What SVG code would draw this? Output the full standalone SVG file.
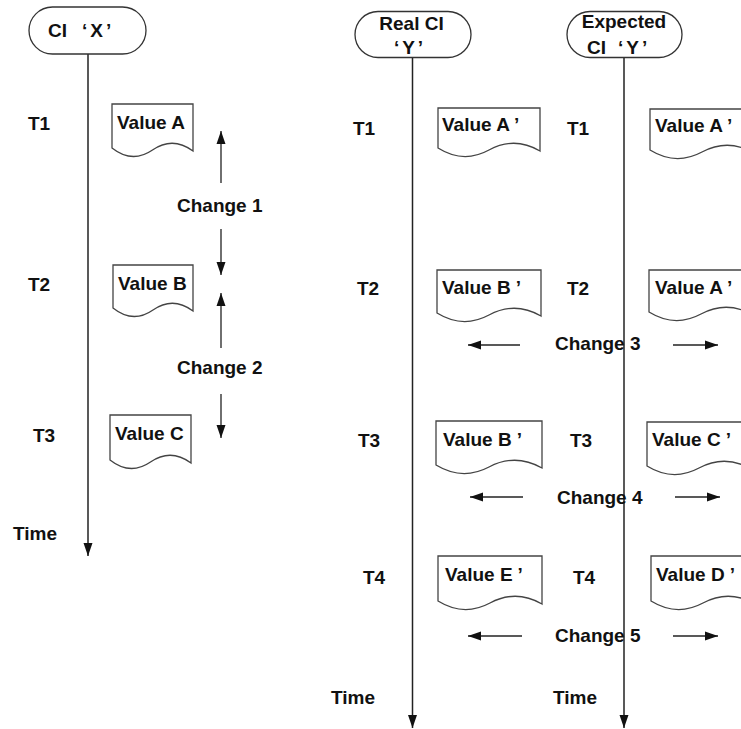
<svg xmlns="http://www.w3.org/2000/svg" width="741" height="729" viewBox="0 0 741 729">
<defs>
<style>
text{font-family:"Liberation Sans",Arial,sans-serif;font-weight:bold;font-size:19px;fill:#111}
.cap{fill:#fff;stroke:#333;stroke-width:1.3}
.doc{fill:#fff;stroke:#444;stroke-width:1.3}
.tl{stroke:#222;stroke-width:1.5;fill:none}
.ar{stroke:#222;stroke-width:1.3;fill:none}
.q{letter-spacing:3px}
</style>
<marker id="ah" markerWidth="14" markerHeight="10" refX="13" refY="5" orient="auto" markerUnits="userSpaceOnUse">
<path d="M0,0.5 L13,5 L0,9.5 z" fill="#111"/>
</marker>
</defs>
<rect width="741" height="729" fill="#fff"/>

<g id="connectors">
<path class="tl" d="M88,54 V556" marker-end="url(#ah)"/>
<path class="tl" d="M412.5,57.5 V728" marker-end="url(#ah)"/>
<path class="tl" d="M624,57.5 V728" marker-end="url(#ah)"/>
<path class="ar" d="M221,183 V131" marker-end="url(#ah)"/>
<path class="ar" d="M221,229 V275" marker-end="url(#ah)"/>
<path class="ar" d="M221,348 V293" marker-end="url(#ah)"/>
<path class="ar" d="M221,394 V438" marker-end="url(#ah)"/>
<path class="ar" d="M520,345 H468" marker-end="url(#ah)"/>
<path class="ar" d="M673,345 H718" marker-end="url(#ah)"/>
<path class="ar" d="M523,497 H470" marker-end="url(#ah)"/>
<path class="ar" d="M675,497 H720" marker-end="url(#ah)"/>
<path class="ar" d="M522,636 H468" marker-end="url(#ah)"/>
<path class="ar" d="M673,636 H718" marker-end="url(#ah)"/>
</g>

<g id="ci-x">
<rect class="cap" x="29" y="7" width="117" height="47" rx="23.5"/>
<text x="48" y="37">CI</text>
<text class="q" x="82" y="37">‘X’</text>
</g>
<g id="real-ci-y">
<rect class="cap" x="355" y="11.5" width="116" height="46" rx="23"/>
<text x="411.5" y="30" text-anchor="middle">Real CI</text>
<text class="q" x="410" y="54" text-anchor="middle">‘Y’</text>
</g>
<g id="expected-ci-y">
<rect class="cap" x="567" y="11.5" width="115" height="46" rx="23"/>
<text x="624" y="28" text-anchor="middle">Expected</text>
<text x="587" y="54">CI</text>
<text class="q" x="618" y="54">‘Y’</text>
</g>

<g id="value-a">
<path class="doc" d="M112,104 H193 V151 Q172.75,136 152.5,150 Q132.25,164 112,148 Z"/>
<text x="117" y="129">Value A</text>
</g>
<g id="value-b">
<path class="doc" d="M113,265 H193 V311 Q173,296 153,310 Q133,324 113,308 Z"/>
<text x="118" y="290">Value B</text>
</g>
<g id="value-c">
<path class="doc" d="M110,415 H191 V463 Q170.75,448 150.5,462 Q130.25,476 110,460 Z"/>
<text x="115" y="440">Value C</text>
</g>

<g id="real-t1">
<path class="doc" d="M438,108 H540 V151 Q514.5,136 489,150 Q463.5,164 438,148 Z"/>
<text x="442" y="131">Value A<tspan dx="5">’</tspan></text>
</g>
<g id="real-t2">
<path class="doc" d="M437,270 H541 V316 Q515,301 489,315 Q463,329 437,313 Z"/>
<text x="442" y="294">Value B<tspan dx="5">’</tspan></text>
</g>
<g id="real-t3">
<path class="doc" d="M436,421 H542 V468 Q515.5,453 489,467 Q462.5,481 436,465 Z"/>
<text x="443" y="446">Value B<tspan dx="5">’</tspan></text>
</g>
<g id="real-t4">
<path class="doc" d="M438,556 H542 V604 Q516,589 490,603 Q464,617 438,601 Z"/>
<text x="445" y="581">Value E<tspan dx="5">’</tspan></text>
</g>

<g id="exp-t1">
<path class="doc" d="M650,109 H754 V153 Q728,138 702,152 Q676,166 650,150 Z"/>
<text x="655" y="132">Value A<tspan dx="5">’</tspan></text>
</g>
<g id="exp-t2">
<path class="doc" d="M649,270 H753 V315 Q727,300 701,314 Q675,328 649,312 Z"/>
<text x="655" y="294">Value A<tspan dx="5">’</tspan></text>
</g>
<g id="exp-t3">
<path class="doc" d="M647,422 H751 V469 Q725,454 699,468 Q673,482 647,466 Z"/>
<text x="652" y="446">Value C<tspan dx="5">’</tspan></text>
</g>
<g id="exp-t4">
<path class="doc" d="M651,556 H755 V604 Q729,589 703,603 Q677,617 651,601 Z"/>
<text x="656" y="581">Value D<tspan dx="5">’</tspan></text>
</g>

<g id="labels">
<text x="28" y="130">T1</text>
<text x="28" y="291">T2</text>
<text x="33" y="442">T3</text>
<text x="13" y="540">Time</text>
<text x="353" y="135">T1</text>
<text x="357" y="295">T2</text>
<text x="358" y="447">T3</text>
<text x="363" y="584">T4</text>
<text x="331" y="704">Time</text>
<text x="567" y="135">T1</text>
<text x="567" y="295">T2</text>
<text x="570" y="447">T3</text>
<text x="573" y="584">T4</text>
<text x="553" y="704">Time</text>
<text x="177" y="212">Change 1</text>
<text x="177" y="374">Change 2</text>
<text x="555" y="350">Change 3</text>
<text x="557" y="504">Change 4</text>
<text x="555" y="642">Change 5</text>
</g>
</svg>
